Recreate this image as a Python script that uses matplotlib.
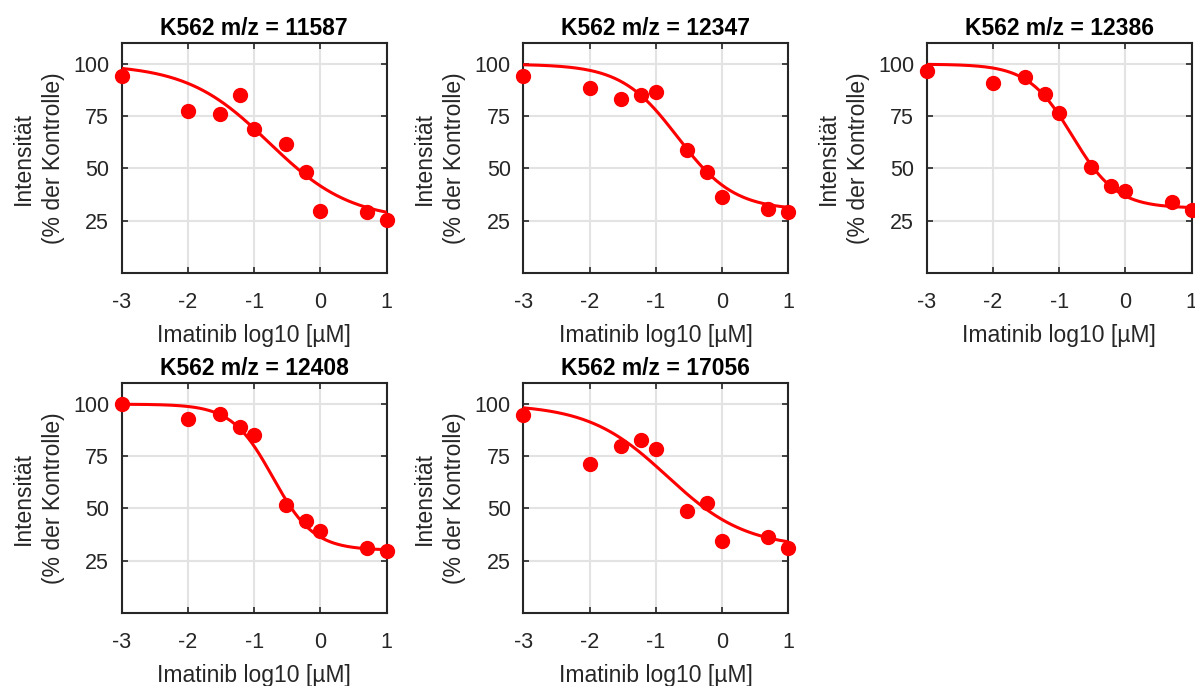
import numpy as np
import matplotlib
matplotlib.use("Agg")
import matplotlib.pyplot as plt

plt.rcParams['font.family'] = ['Liberation Sans', 'DejaVu Sans']

# Imatinib concentrations in uM
conc = [0.001, 0.01, 0.03, 0.06, 0.1, 0.3, 0.6, 1, 5, 10]

mz_values = ['11587', '12347', '12386', '12408', '17056']

int_11587 = [94.3, 77.5, 76.2, 85.1, 69.0, 61.5, 48.1, 29.6, 29.1, 25.2]
int_12347 = [94.5, 88.7, 83.2, 85.0, 86.6, 58.8, 48.5, 36.3, 30.4, 29.1]
int_12386 = [96.8, 91.1, 94.0, 85.8, 76.7, 50.5, 41.4, 39.4, 33.7, 30.3]
int_12408 = [100.3, 92.9, 95.3, 88.9, 85.1, 51.5, 44.1, 39.1, 30.9, 29.8]
int_17056 = [95.0, 71.1, 79.8, 83.0, 78.7, 48.9, 52.5, 34.4, 36.5, 31.2]

# fitted 4PL parameters: top, bottom, log10 IC50, hill slope
fit_top = [100, 100, 100, 100, 100]
fit_bottom = [25, 30, 31, 30, 31]
fit_logic50 = [-0.78, -0.67, -0.80, -0.72, -0.83]
fit_hill = [0.70, 1.02, 1.30, 1.40, 0.73]

intensities = [int_11587, int_12347, int_12386, int_12408, int_17056]

x_ticks = [-3, -2, -1, 0, 1]
y_ticks = [25, 50, 75, 100]

# axes positions in pixels
W, H = 1195, 686
lefts = [121.7, 523.3, 926.7]
tops = [43.3, 383.3]
ax_w, ax_h = 265.0, 229.5

fig = plt.figure(figsize=(W / 100, H / 100), dpi=100)

x_log = np.log10(conc)
x_fit = np.linspace(-3, 1, 300)
dark = '#262626'

for i, mz in enumerate(mz_values):
    row, col = divmod(i, 3)
    rect = [lefts[col] / W, 1 - (tops[row] + ax_h) / H, ax_w / W, ax_h / H]
    ax = fig.add_axes(rect)

    top, bot, c, h = fit_top[i], fit_bottom[i], fit_logic50[i], fit_hill[i]
    y_fit = bot + (top - bot) / (1 + 10 ** ((x_fit - c) * h))

    ax.plot(x_fit, y_fit, color='#ff0000', linewidth=2.2, zorder=3)
    ax.plot(x_log, intensities[i], 'o', color='#ff0000', markersize=10,
            zorder=4, clip_on=False)

    ax.set_xlim(-3, 1)
    ax.set_ylim(0, 110)
    ax.set_xticks(x_ticks)
    ax.set_yticks(y_ticks)
    ax.set_xticklabels([str(t) for t in x_ticks])
    ax.grid(True, color='#e3e3e3', linewidth=1.5)
    ax.set_axisbelow(True)
    ax.tick_params(direction='in', length=4, width=1.2, colors=dark,
                   labelsize=15.5, top=True, right=True)
    ax.tick_params(axis='x', pad=14)
    ax.tick_params(axis='y', pad=9)
    for s in ax.spines.values():
        s.set_color(dark)
        s.set_linewidth(1.5)

    ax.set_title('K562 m/z = ' + mz, fontsize=16.5, fontweight='bold', pad=6)
    ax.set_xlabel('Imatinib log10 [µM]', fontsize=16.5, color=dark, labelpad=8)
    ax.set_ylabel('Intensität\n(% der Kontrolle)', fontsize=16.5, color=dark,
                  labelpad=6, linespacing=1.4)

fig.savefig('out.png', dpi=100)
